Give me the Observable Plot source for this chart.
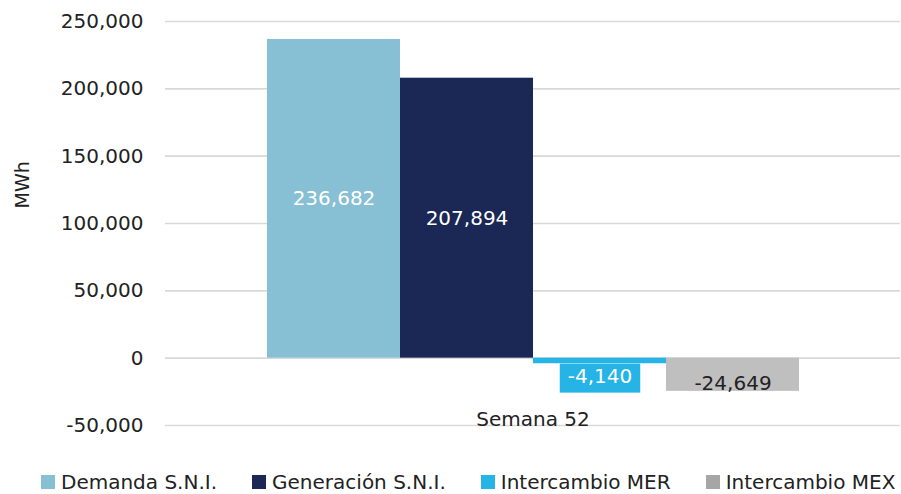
<!DOCTYPE html>
<html>
<head>
<meta charset="utf-8">
<script src="https://cdn.jsdelivr.net/npm/d3@7"></script>
<script src="https://cdn.jsdelivr.net/npm/@observablehq/plot@0.6"></script>
<style>
  html, body { margin: 0; padding: 0; background: #fff; }
  body { width: 901px; height: 494px; position: relative; overflow: hidden; font-family: "DejaVu Sans", sans-serif; color: #222; }
  #legend { position: absolute; left: 41px; top: 472px; height: 20px; line-height: 20px; display: flex; align-items: center; gap: 35px; font-size: 20px; white-space: nowrap; }
  #legend .item { display: flex; align-items: center; }
  #legend .sw { width: 14px; height: 14px; margin-right: 6px; }
</style>
</head>
<body>
<div id="chart"></div>
<div id="legend"></div>
<script>
// ---- data ----
const category = "Semana 52";
const series = ["Demanda S.N.I.", "Generación S.N.I.", "Intercambio MER", "Intercambio MEX"];
const values = [236682, 207894, -4140, -24649];
const barColors = ["#87BFD4", "#1B2754", "#26B3E6", "#BFBFBF"];
const legendColors = ["#87BFD4", "#1B2754", "#26B3E6", "#A6A6A6"];
const labelColors = ["#ffffff", "#ffffff", "#ffffff", "#222222"];
const labelBoxes = [null, null, "#26B3E6", null];
const yTicks = [-50000, 0, 50000, 100000, 150000, 200000, 250000];
const yLabel = "MWh";

const fmt = d => d3.format(",")(d).replace("\u2212", "-");
const rows = series.map((s, i) => ({ series: s, value: values[i], label: fmt(values[i]), color: labelColors[i], box: labelBoxes[i] }));
const pos = rows.filter(d => d.value >= 0);
const negSmall = rows.filter(d => d.value < 0 && d.box);
const negBig = rows.filter(d => d.value < 0 && !d.box);

const plot = Plot.plot({
  width: 901,
  height: 460,
  marginLeft: 165,
  marginRight: 1,
  marginTop: 21,
  marginBottom: 35,
  style: { fontFamily: "DejaVu Sans, sans-serif", fontSize: "20px", color: "#222", background: "white" },
  x: { domain: series, paddingInner: 0, paddingOuter: 0.75, axis: null },
  y: { domain: [-50000, 250000], ticks: yTicks, tickFormat: d => fmt(d), tickSize: 0, tickPadding: 22, label: null },
  color: { domain: series, range: barColors },
  marks: [
    Plot.ruleY(yTicks, { stroke: "#D9D9D9", strokeWidth: 1.6 }),
    Plot.barY(rows, { x: "series", y: "value", fill: "series" }),
    Plot.text(pos, { x: "series", y: d => d.value / 2, text: "label", fill: "color", fontSize: 20 }),
    Plot.text(negSmall, { x: "series", y: "value", text: "label", fill: "color", fontSize: 20, dy: 12.5 }),
    Plot.text(negBig, { x: "series", y: "value", text: "label", fill: "color", fontSize: 20, dy: -8 }),
    Plot.text([category], { frameAnchor: "bottom", dy: 0, fill: "#222", fontSize: 20 }),
    Plot.text([yLabel], { frameAnchor: "left", rotate: -90, dx: -143, dy: -15, fill: "#222", fontSize: 19 })
  ]
});
document.getElementById("chart").appendChild(plot);

// label background boxes (drawn behind labels that have one)
const boxMap = new Map(rows.filter(d => d.box).map(d => [d.label, d.box]));
d3.select(plot).selectAll("text").each(function () {
  const c = boxMap.get(this.textContent);
  if (!c) return;
  const b = this.getBBox();
  const r = document.createElementNS("http://www.w3.org/2000/svg", "rect");
  r.setAttribute("x", b.x - 8);
  r.setAttribute("y", b.y);
  r.setAttribute("width", b.width + 16);
  r.setAttribute("height", b.height + 5);
  r.setAttribute("fill", c);
  const t = this.getAttribute("transform");
  if (t) r.setAttribute("transform", t);
  this.parentNode.insertBefore(r, this);
});

// legend
const legend = d3.select("#legend");
series.forEach((s, i) => {
  const it = legend.append("div").attr("class", "item");
  it.append("div").attr("class", "sw").style("background", legendColors[i]);
  it.append("span").text(s);
});
</script>
</body>
</html>
